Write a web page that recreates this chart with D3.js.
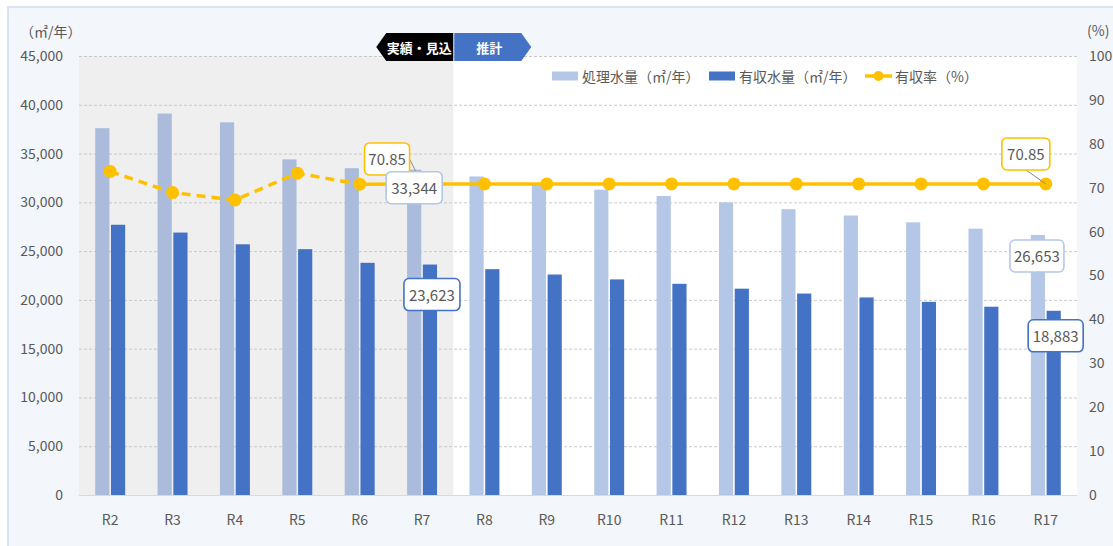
<!DOCTYPE html>
<html>
<head>
<meta charset="utf-8">
<script src="https://cdn.jsdelivr.net/npm/d3@7"></script>
<style>
  body { margin: 0; background: #fff; }
  svg { display: block; font-family: "Noto Sans CJK JP", "Noto Sans", sans-serif; }
</style>
</head>
<body>
<div id="chart"></div>
<script>
// data
const categories = ['R2', 'R3', 'R4', 'R5', 'R6', 'R7', 'R8', 'R9', 'R10', 'R11', 'R12', 'R13', 'R14', 'R15', 'R16', 'R17'];
const treated = [37600, 39100, 38200, 34400, 33500, 33344, 32650, 31950, 31300, 30650, 30000, 29300, 28650, 27950, 27300, 26653];
const billed = [27700, 26900, 25700, 25200, 23800, 23623, 23150, 22600, 22100, 21650, 21150, 20650, 20250, 19800, 19300, 18883];
const rate = [73.7, 68.9, 67.2, 73.3, 70.8, 70.85, 70.85, 70.85, 70.85, 70.85, 70.85, 70.85, 70.85, 70.85, 70.85, 70.85];
const leftTicks = [0, 5000, 10000, 15000, 20000, 25000, 30000, 35000, 40000, 45000];
const rightTicks = [0, 10, 20, 30, 40, 50, 60, 70, 80, 90, 100];
const actualCount = 6;     // R2..R7 = 実績・見込
const dashedUntil = 4;     // rate line dashed R2..R6
const seriesNames = ['処理水量（㎡/年）', '有収水量（㎡/年）', '有収率（%）'];

const W = 1113, H = 546;
const pL = 79, pR = 1077, pT = 56, pB = 495;
const textCol = '#595959';
const lightCol = '#b4c7e7', lightShade = '#aabbdb', darkCol = '#4472c4', rateCol = '#ffc000';

const svg = d3.select('#chart').append('svg').attr('width', W).attr('height', H);

// panel
svg.append('rect').attr('x', 8).attr('y', 7).attr('width', W).attr('height', H)
    .attr('fill', '#f3f6fb').attr('stroke', '#dae3f3').attr('stroke-width', 2);

const x = d3.scaleBand().domain(categories).range([pL, pR]).paddingInner(0.52).paddingOuter(0.26);
const x1 = d3.scaleBand().domain([0, 1]).range([0, x.bandwidth()]).paddingInner(0.1);
const y = d3.scaleLinear().domain([0, 45000]).range([pB, pT]);
const y2 = d3.scaleLinear().domain([0, 100]).range([pB, pT]);
const step = x.step();
const splitX = pL + step * actualCount;

// plot background
svg.append('rect').attr('x', pL).attr('y', pT).attr('width', pR - pL).attr('height', pB - pT).attr('fill', '#fff');
svg.append('rect').attr('x', pL).attr('y', pT).attr('width', splitX - pL).attr('height', pB - pT).attr('fill', '#efefef');

// grid
svg.append('g').selectAll('line').data(leftTicks.slice(1)).enter().append('line')
    .attr('x1', pL).attr('x2', pR)
    .attr('y1', d => y(d) + 0.5).attr('y2', d => y(d) + 0.5)
    .attr('stroke', '#c9c9c9').attr('stroke-dasharray', '3,2');
svg.append('line').attr('x1', pL).attr('x2', pR).attr('y1', pB + 0.5).attr('y2', pB + 0.5)
    .attr('stroke', '#d9d9d9');

// axes
const axisL = svg.append('g').attr('transform', `translate(${pL - 6},0)`)
    .call(d3.axisLeft(y).tickValues(leftTicks).tickSize(0).tickPadding(10).tickFormat(d3.format(',')));
const axisR = svg.append('g').attr('transform', `translate(${pR + 2},0)`)
    .call(d3.axisRight(y2).tickValues(rightTicks).tickSize(0).tickPadding(10));
const axisB = svg.append('g').attr('transform', `translate(0,${pB + 16})`)
    .call(d3.axisBottom(x).tickSize(0).tickPadding(4));
[axisL, axisR, axisB].forEach(g => {
    g.select('.domain').remove();
    g.selectAll('text').attr('fill', textCol).style('font-size', '14px')
        .style('font-family', '"Noto Sans CJK JP", sans-serif');
});

svg.append('text').attr('x', 20).attr('y', 37).attr('fill', textCol).style('font-size', '14px').text('（㎡/年）');
svg.append('text').attr('x', 1087).attr('y', 36).attr('fill', textCol).style('font-size', '14px').text('(%)');

// bars
const groups = svg.append('g').selectAll('g').data(categories).enter().append('g')
    .attr('transform', d => `translate(${x(d)},0)`);
groups.append('rect')
    .attr('x', x1(0)).attr('width', x1.bandwidth())
    .attr('y', (d, i) => y(treated[i])).attr('height', (d, i) => pB - y(treated[i]))
    .attr('fill', (d, i) => i < actualCount ? lightShade : lightCol);
groups.append('rect')
    .attr('x', x1(1)).attr('width', x1.bandwidth())
    .attr('y', (d, i) => y(billed[i])).attr('height', (d, i) => pB - y(billed[i]))
    .attr('fill', darkCol);

// rate line
const cx = c => x(c) + x.bandwidth() / 2;
const pts = categories.map((c, i) => [cx(c), y2(rate[i])]);
const line = d3.line();
svg.append('path').attr('d', line(pts.slice(0, dashedUntil + 1)))
    .attr('fill', 'none').attr('stroke', rateCol).attr('stroke-width', 3.5).attr('stroke-dasharray', '9,6');
svg.append('path').attr('d', line(pts.slice(dashedUntil)))
    .attr('fill', 'none').attr('stroke', rateCol).attr('stroke-width', 3.5);
svg.append('g').selectAll('circle').data(pts).enter().append('circle')
    .attr('cx', d => d[0]).attr('cy', d => d[1]).attr('r', 6.5).attr('fill', rateCol);

// callouts
function callout(px, py, dx, dy, w, label, border, leader) {
    const bx = px + dx, by = py + dy;
    if (leader) {
        svg.append('line').attr('x1', leader[0]).attr('y1', leader[1]).attr('x2', px).attr('y2', py)
            .attr('stroke', '#8c8c8c').attr('stroke-width', 1);
    }
    svg.append('rect').attr('x', bx - w / 2).attr('y', by - 16).attr('width', w).attr('height', 32)
        .attr('rx', 5).attr('fill', '#fff').attr('stroke', border).attr('stroke-width', 1.6);
    svg.append('text').attr('x', bx).attr('y', by).attr('text-anchor', 'middle').attr('dominant-baseline', 'central')
        .attr('fill', textCol).style('font-size', '15px').text(label);
}
const iR7 = actualCount - 1, iLast = categories.length - 1;
const lx = (i, s) => x(categories[i]) + x1(s) + x1.bandwidth() / 2;
callout(pts[iR7][0], pts[iR7][1], -35, -25, 45, rate[iR7].toFixed(2), rateCol, [pts[iR7][0] - 13, pts[iR7][1] - 26]);
callout(lx(iR7, 0), y(treated[iR7]), 0, 18, 56, d3.format(',')(treated[iR7]), lightCol);
callout(lx(iR7, 1), y(billed[iR7]), 2, 30, 56, d3.format(',')(billed[iR7]), darkCol);
callout(pts[iLast][0], pts[iLast][1], -20, -30, 48, rate[iLast].toFixed(2), rateCol, [pts[iLast][0] - 20, pts[iLast][1] - 14]);
callout(lx(iLast, 0), y(treated[iLast]), -1, 21, 54, d3.format(',')(treated[iLast]), lightCol);
callout(lx(iLast, 1), y(billed[iLast]), 2, 25, 55, d3.format(',')(billed[iLast]), darkCol);

// phase tags
const tagY = 33, tagH = 28;
svg.append('path')
    .attr('d', `M${splitX},${tagY} L${splitX - 67},${tagY} L${splitX - 77},${tagY + tagH / 2} L${splitX - 67},${tagY + tagH} L${splitX},${tagY + tagH} Z`)
    .attr('fill', '#000');
svg.append('path')
    .attr('d', `M${splitX + 1},${tagY} L${splitX + 68},${tagY} L${splitX + 78},${tagY + tagH / 2} L${splitX + 68},${tagY + tagH} L${splitX + 1},${tagY + tagH} Z`)
    .attr('fill', darkCol);
svg.append('text').attr('x', splitX - 34).attr('y', tagY + tagH / 2).attr('text-anchor', 'middle')
    .attr('dominant-baseline', 'central').attr('fill', '#fff').style('font-size', '13px').style('font-weight', 'bold').text('実績・見込');
svg.append('text').attr('x', splitX + 36).attr('y', tagY + tagH / 2).attr('text-anchor', 'middle')
    .attr('dominant-baseline', 'central').attr('fill', '#fff').style('font-size', '13px').style('font-weight', 'bold').text('推計');

// legend
const lg = svg.append('g').attr('transform', 'translate(0,76)');
const legendX = [552, 709, 865];
lg.append('rect').attr('x', legendX[0]).attr('y', -4.5).attr('width', 26).attr('height', 9).attr('fill', lightCol);
lg.append('rect').attr('x', legendX[1]).attr('y', -4.5).attr('width', 26).attr('height', 9).attr('fill', darkCol);
lg.append('line').attr('x1', legendX[2]).attr('x2', legendX[2] + 27).attr('stroke', rateCol).attr('stroke-width', 3.5);
lg.append('circle').attr('cx', legendX[2] + 13.5).attr('r', 5).attr('fill', rateCol);
lg.selectAll('text.lg').data(seriesNames).enter().append('text')
    .attr('x', (d, i) => legendX[i] + 30)
    .attr('dominant-baseline', 'central').attr('fill', textCol).style('font-size', '14px').text(d => d);
</script>
</body>
</html>
